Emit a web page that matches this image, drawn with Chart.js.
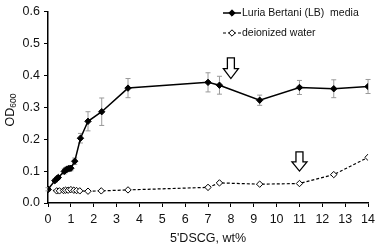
<!DOCTYPE html>
<html>
<head>
<meta charset="utf-8">
<script src="https://cdn.jsdelivr.net/npm/chart.js@4/dist/chart.umd.min.js"></script>
<style>
  html, body { margin: 0; padding: 0; background: #fff; }
</style>
</head>
<body>
<canvas id="odChart" width="380" height="246"></canvas>
<script>
const lbX = [0, 0.3, 0.4, 0.45, 0.71, 0.77, 0.84, 0.92, 1.0, 1.17, 1.42, 1.75, 2.35, 3.5, 7.0, 7.5, 9.26, 11, 12.5, 14];
const lbY = [0.043, 0.07, 0.077, 0.08, 0.099, 0.103, 0.106, 0.108, 0.109, 0.131, 0.203, 0.256, 0.286, 0.36, 0.378, 0.369, 0.322, 0.362, 0.358, 0.365];
const lbErr = [0.005, 0.005, 0.005, 0.005, 0.008, 0.008, 0.008, 0.008, 0.008, 0.01, 0.015, 0.03, 0.043, 0.03, 0.03, 0.028, 0.016, 0.022, 0.028, 0.022];

const waterX = [0, 0.38, 0.5, 0.68, 0.77, 0.88, 1.0, 1.13, 1.25, 1.39, 1.75, 2.33, 3.5, 7.0, 7.5, 9.26, 11, 12.5, 14];
const waterY = [0.042, 0.038, 0.038, 0.039, 0.04, 0.04, 0.042, 0.04, 0.039, 0.038, 0.037, 0.038, 0.041, 0.049, 0.063, 0.059, 0.061, 0.089, 0.143];

const seriesLabels = ["Luria Bertani (LB)  media", "deionized water"];
const xTicks = [0, 1, 2, 3, 4, 5, 6, 7, 8, 9, 10, 11, 12, 13, 14];
const yTicks = [0.0, 0.1, 0.2, 0.3, 0.4, 0.5, 0.6];

// down arrows marking the transition points (x, top, bottom in data units)
const arrowX = [8.0, 11.0];
const arrowTop = [0.455, 0.16];
const arrowBottom = [0.39, 0.1];

const FONT = "'Liberation Sans', Arial, sans-serif";

const errorBars = {
  id: "errorBars",
  beforeDatasetsDraw(chart) {
    const { ctx, scales: { x, y } } = chart;
    ctx.save();
    ctx.strokeStyle = "#9a9a9a";
    ctx.lineWidth = 1;
    lbX.forEach((v, i) => {
      const px = x.getPixelForValue(v);
      const top = y.getPixelForValue(lbY[i] + lbErr[i]);
      const bot = y.getPixelForValue(lbY[i] - lbErr[i]);
      ctx.beginPath();
      ctx.moveTo(px, top);
      ctx.lineTo(px, bot);
      ctx.moveTo(px - 2.5, top);
      ctx.lineTo(px + 2.5, top);
      ctx.moveTo(px - 2.5, bot);
      ctx.lineTo(px + 2.5, bot);
      ctx.stroke();
    });
    ctx.restore();
  },
};

const extras = {
  id: "extras",
  afterDraw(chart) {
    const { ctx, scales: { x, y } } = chart;
    ctx.save();

    // arrows
    ctx.strokeStyle = "#000";
    ctx.fillStyle = "#fff";
    ctx.lineWidth = 1.3;
    arrowX.forEach((v, i) => {
      const cx = x.getPixelForValue(v);
      const t = y.getPixelForValue(arrowTop[i]);
      const b = y.getPixelForValue(arrowBottom[i]);
      const neck = t + (b - t) * 0.52;
      ctx.beginPath();
      ctx.moveTo(cx - 3.5, t);
      ctx.lineTo(cx + 3.5, t);
      ctx.lineTo(cx + 3.5, neck);
      ctx.lineTo(cx + 7.5, neck);
      ctx.lineTo(cx, b);
      ctx.lineTo(cx - 7.5, neck);
      ctx.lineTo(cx - 3.5, neck);
      ctx.closePath();
      ctx.fill();
      ctx.stroke();
    });

    // legend
    ctx.font = "10.5px " + FONT;
    ctx.textBaseline = "middle";
    ctx.fillStyle = "#111";
    const rows = [13, 33];
    rows.forEach((ry, i) => {
      ctx.beginPath();
      ctx.strokeStyle = "#000";
      if (i === 0) {
        ctx.lineWidth = 1.5;
        ctx.setLineDash([]);
      } else {
        ctx.lineWidth = 1.2;
        ctx.setLineDash([3, 2]);
      }
      ctx.moveTo(223, ry);
      ctx.lineTo(241, ry);
      ctx.stroke();
      ctx.setLineDash([]);
      ctx.beginPath();
      ctx.moveTo(232, ry - 3.2);
      ctx.lineTo(235.2, ry);
      ctx.lineTo(232, ry + 3.2);
      ctx.lineTo(228.8, ry);
      ctx.closePath();
      ctx.fillStyle = i === 0 ? "#000" : "#fff";
      ctx.fill();
      ctx.lineWidth = 1;
      ctx.stroke();
      ctx.fillStyle = "#111";
      ctx.fillText(seriesLabels[i], 242, ry);
    });

    // y title: OD with subscript 600
    ctx.translate(11, 110);
    ctx.rotate(-Math.PI / 2);
    ctx.textBaseline = "middle";
    ctx.font = "12.5px " + FONT;
    const odW = ctx.measureText("OD").width;
    ctx.font = "8.5px " + FONT;
    const subW = ctx.measureText("600").width;
    const start = -(odW + subW) / 2;
    ctx.font = "12.5px " + FONT;
    ctx.fillText("OD", start, 0);
    ctx.font = "8.5px " + FONT;
    ctx.fillText("600", start + odW, 3);

    ctx.restore();
  },
};

new Chart(document.getElementById("odChart"), {
  type: "line",
  data: {
    datasets: [
      {
        label: seriesLabels[0],
        data: lbX.map((v, i) => ({ x: v, y: lbY[i] })),
        borderColor: "#000",
        backgroundColor: "#000",
        borderWidth: 1.5,
        pointStyle: "rectRot",
        pointRadius: 3.2,
        pointBorderWidth: 1,
        tension: 0,
      },
      {
        label: seriesLabels[1],
        data: waterX.map((v, i) => ({ x: v, y: waterY[i] })),
        borderColor: "#000",
        backgroundColor: "#fff",
        borderWidth: 1.2,
        borderDash: [3, 2],
        pointStyle: "rectRot",
        pointRadius: 3.2,
        pointBorderWidth: 1,
        tension: 0,
      },
    ],
  },
  options: {
    responsive: false,
    animation: false,
    layout: { padding: { top: 8, right: 9, left: 0, bottom: 0 } },
    plugins: {
      legend: { display: false },
      tooltip: { enabled: false },
    },
    scales: {
      x: {
        type: "linear",
        min: 0,
        max: 14,
        afterBuildTicks: (axis) => { axis.ticks = xTicks.map((v) => ({ value: v })); },
        grid: { drawOnChartArea: false, tickLength: 4, color: "#000" },
        border: { color: "#000", width: 1.5 },
        ticks: { color: "#111", font: { family: FONT, size: 12.5 }, padding: 5, maxRotation: 0 },
        title: { display: true, text: "5'DSCG, wt%", color: "#111", font: { family: FONT, size: 12.5 }, padding: { top: 3, bottom: 0 } },
        afterFit: (axis) => { axis.height = 43; },
      },
      y: {
        min: 0,
        max: 0.6,
        afterBuildTicks: (axis) => { axis.ticks = yTicks.map((v) => ({ value: v })); },
        grid: { drawOnChartArea: false, tickLength: 4, color: "#000" },
        border: { color: "#000", width: 1.5 },
        ticks: { color: "#111", font: { family: FONT, size: 12.5 }, padding: 4, callback: (v) => v.toFixed(1) },
        afterFit: (axis) => { axis.width = 48; },
      },
    },
  },
  plugins: [errorBars, extras],
});
</script>
</body>
</html>
